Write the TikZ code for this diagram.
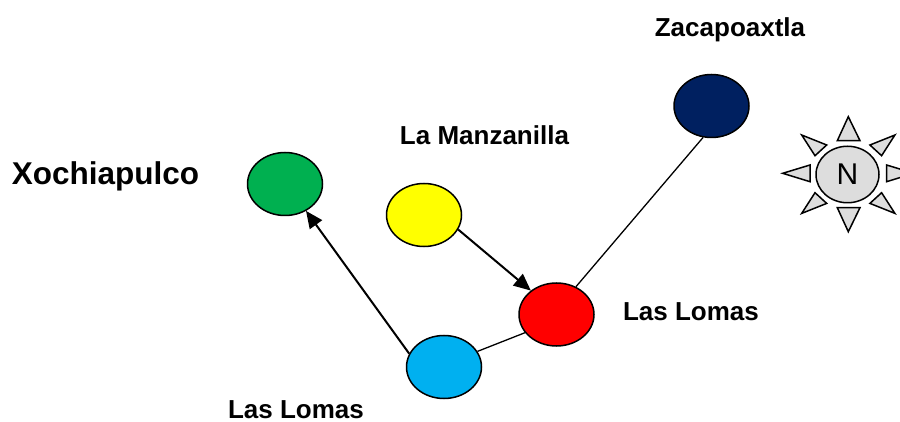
\documentclass[tikz,border=0pt]{standalone}
\usepackage{fontspec}
\setmainfont{Liberation Sans}
\usetikzlibrary{shapes.geometric,arrows.meta}
\definecolor{cgreen}{RGB}{0,176,80}
\definecolor{cyellow}{RGB}{255,255,0}
\definecolor{cred}{RGB}{255,0,0}
\definecolor{cblue}{RGB}{0,176,240}
\definecolor{cnavy}{RGB}{0,32,96}
\definecolor{cgray}{RGB}{221,221,221}
\tikzset{
  town/.style={ellipse,draw=black,line width=1.5pt,minimum width=75pt,minimum height=63pt,inner sep=0pt},
  lbl/.style={font=\bfseries\fontsize{26}{30}\selectfont,anchor=base,inner sep=0pt},
  biglbl/.style={font=\bfseries\fontsize{31.5}{36}\selectfont,anchor=base,inner sep=0pt},
  arr/.style={line width=2pt,-{Triangle[length=17pt,width=15pt]}},
  link/.style={line width=1.3pt},
  ray/.style={draw=black,fill=cgray,line width=1.5pt,line join=miter},
}
\begin{document}
\begin{tikzpicture}[x=1pt,y=-1pt]
\useasboundingbox (0,0) rectangle (900,422);
% towns
\node[town,fill=cgreen]  (green)  at (285,184) {};
\node[town,fill=cyellow] (yellow) at (424,215) {};
\node[town,fill=cred]    (red)    at (556.5,314.5) {};
\node[town,fill=cblue]   (blue)   at (444,367) {};
\node[town,fill=cnavy]   (navy)   at (711.5,106) {};
% labels
\node[biglbl] (lxoch) at (105.5,185) {Xochiapulco};
\node[lbl] (lzac) at (730,37) {Zacapoaxtla};
\node[lbl] (lman) at (484.5,145) {La Manzanilla};
\node[lbl] (llr)  at (691,320) {Las Lomas};
\node[lbl] (llb)  at (296,418) {Las Lomas};
% connectors
\draw[arr] (blue.159) -- (green.-52);
\draw[arr] (yellow.-23) -- (red.137);
\draw[link] (blue.25) -- (red.210);
\draw[link] (red.55) -- (navy.-105);
% compass
\begin{scope}[shift={(848.3,174.2)}]
  \path[ray] (0,-57.5) -- (11.7,-33.5) -- (-11,-33.5) -- cycle;
  \path[ray] (0,57.5) -- (11.7,33.5) -- (-11,33.5) -- cycle;
  \path[ray] (-65.6,-0.9) -- (-38.3,-9.2) -- (-38.3,7.5) -- cycle;
  \path[ray] (65.6,-0.9) -- (38.3,-9.2) -- (38.3,7.5) -- cycle;
  \path[ray] (-46.6,-39.2) -- (-21.6,-29.2) -- (-33.3,-18.5) -- cycle;
  \path[ray] (46.6,-39.2) -- (21.6,-29.2) -- (33.3,-18.5) -- cycle;
  \path[ray] (-46.6,39.2) -- (-21.6,29.2) -- (-33.3,18.5) -- cycle;
  \path[ray] (46.6,39.2) -- (21.6,29.2) -- (33.3,18.5) -- cycle;
\end{scope}
\node[ellipse,draw=black,fill=cgray,line width=1.5pt,minimum width=63pt,minimum height=56.5pt,inner sep=0pt,font=\fontsize{30}{34}\selectfont] (compass) at (847.5,174.5) {N};
\end{tikzpicture}
\end{document}
